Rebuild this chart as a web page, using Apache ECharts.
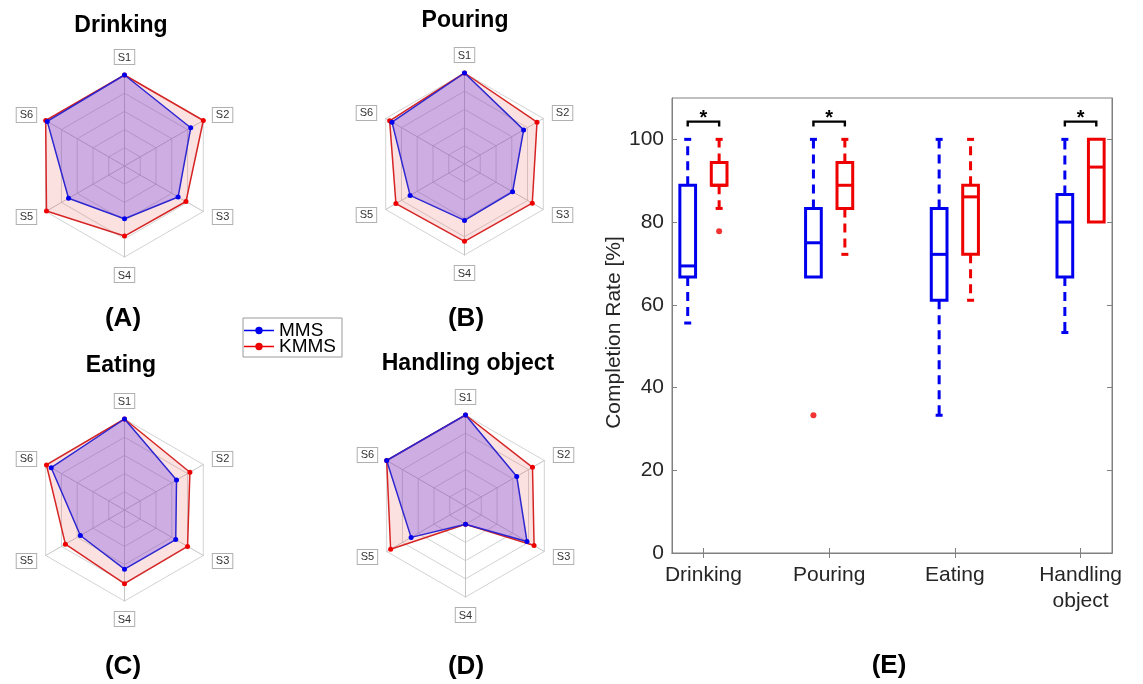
<!DOCTYPE html>
<html>
<head>
<meta charset="utf-8">
<title>MMS vs KMMS completion</title>
<script src="https://cdn.jsdelivr.net/npm/echarts@6/dist/echarts.min.js"></script>
<style>
  html, body { margin: 0; padding: 0; background: #fff; }
  #main { width: 1143px; height: 684px; }
</style>
</head>
<body>
<div id="main"></div>
<script>
// spokes of every radar, clockwise from the top
const spokes = ['S1', 'S2', 'S3', 'S4', 'S5', 'S6'];
const taskNames = ['Drinking', 'Pouring', 'Eating', 'Handling object'];
const panelTags = ['(A)', '(B)', '(C)', '(D)'];

// radar values in % of full scale, order S1..S6
const mmsRadar = [
  [100, 84, 68, 58, 71, 98],
  [100, 75, 61, 62, 69, 92],
  [100, 66, 65, 65, 56, 93],
  [100, 65, 78, 20, 69, 100]
];
const kmmsRadar = [
  [100, 100, 78, 77, 99, 100],
  [100, 92, 86, 85, 87, 95],
  [100, 83, 80, 81, 75, 99],
  [100, 85, 87, 20, 95, 100]
];

// box plot (E): [lower whisker, q1, median, q3, upper whisker]
const boxCategories = ['Drinking', 'Pouring', 'Eating', 'Handling\nobject'];
const mmsBox = [
  [55.6, 66.7, 69.4, 88.9, 100],
  [66.7, 66.7, 75.0, 83.3, 100],
  [33.3, 61.1, 72.2, 83.3, 100],
  [53.3, 66.7, 80.0, 86.7, 100]
];
const kmmsBox = [
  [83.3, 88.9, 88.9, 94.4, 100],
  [72.2, 83.3, 88.9, 94.4, 100],
  [61.1, 72.2, 86.1, 88.9, 100],
  [80.0, 80.0, 93.3, 100, 100]
];
const mmsOutliers = [[], [33.3], [], []];
const kmmsOutliers = [[77.8], [], [], []];
const significantTasks = [0, 1, 3];
const sigLevel = 104.3;
const yTicks = [0, 20, 40, 60, 80, 100];
const xTicks = [1, 2, 3, 4];

const FONT = '"Liberation Sans", Arial, Helvetica, sans-serif';
const BLUE = '#0000ee';
const RED = '#ee0000';
const groupShift = 0.125; // MMS left of the tick, KMMS right
const boxWidth = 0.125;

const chart = echarts.init(document.getElementById('main'));

// ---- radars (A)-(D) ----
const radarCenters = [[124.5, 166], [464.5, 164], [124.5, 510], [465.5, 506]];
// echarts lays indicators out counter-clockwise, so feed S1 then S6..S2
const ccw = [0, 5, 4, 3, 2, 1];
const radars = radarCenters.map(c => ({
  center: c,
  radius: 91,
  startAngle: 90,
  splitNumber: 5,
  shape: 'polygon',
  nameGap: 11,
  indicator: ccw.map(i => ({ name: spokes[i], min: 0, max: 100 })),
  axisName: {
    color: '#333', fontSize: 11, fontFamily: FONT,
    backgroundColor: '#fff', borderColor: '#b0b0b0', borderWidth: 1,
    padding: [2, 3, 1, 3]
  },
  splitLine: { lineStyle: { color: '#d3d3d3', width: 1 } },
  splitArea: { show: false },
  axisLine: { lineStyle: { color: '#c4c4c4', width: 1 } }
}));

const radarSeries = [];
taskNames.forEach((t, k) => {
  radarSeries.push({
    type: 'radar', name: 'KMMS', radarIndex: k,
    symbol: 'circle', symbolSize: 5,
    itemStyle: { color: RED },
    lineStyle: { color: '#d42222', width: 1.5 },
    areaStyle: { color: 'rgba(240,80,80,0.17)', opacity: 1 },
    data: [{ name: 'KMMS', value: ccw.map(i => kmmsRadar[k][i]) }]
  });
  radarSeries.push({
    type: 'radar', name: 'MMS', radarIndex: k,
    symbol: 'circle', symbolSize: 5,
    itemStyle: { color: BLUE },
    lineStyle: { color: '#2222cc', width: 1.5 },
    areaStyle: { color: 'rgba(105,65,230,0.32)', opacity: 1 },
    data: [{ name: 'MMS', value: ccw.map(i => mmsRadar[k][i]) }]
  });
});

// ---- box plot (E) ----
function boxRenderer (color) {
  return function (params, api) {
    const x = api.value(0);
    const lo = api.coord([x, api.value(1)]);
    const q1 = api.coord([x, api.value(2)]);
    const md = api.coord([x, api.value(3)]);
    const q3 = api.coord([x, api.value(4)]);
    const hi = api.coord([x, api.value(5)]);
    const hw = api.size([boxWidth, 0])[0] / 2;
    const cx = q1[0];
    const cap = 3.5;
    const solid = { stroke: color, lineWidth: 3, fill: 'none' };
    const dashed = { stroke: color, lineWidth: 3, lineDash: [9, 6], fill: 'none' };
    const kids = [
      { type: 'rect', shape: { x: cx - hw, y: q3[1], width: hw * 2, height: q1[1] - q3[1] }, style: solid },
      { type: 'line', shape: { x1: cx - hw, y1: md[1], x2: cx + hw, y2: md[1] }, style: solid }
    ];
    if (q3[1] - hi[1] > 0.5) {
      kids.push({ type: 'line', shape: { x1: cx, y1: q3[1], x2: cx, y2: hi[1] }, style: dashed });
      kids.push({ type: 'line', shape: { x1: cx - cap, y1: hi[1], x2: cx + cap, y2: hi[1] }, style: solid });
    }
    if (lo[1] - q1[1] > 0.5) {
      kids.push({ type: 'line', shape: { x1: cx, y1: q1[1], x2: cx, y2: lo[1] }, style: dashed });
      kids.push({ type: 'line', shape: { x1: cx - cap, y1: lo[1], x2: cx + cap, y2: lo[1] }, style: solid });
    }
    return { type: 'group', children: kids };
  };
}

const mmsBoxData = mmsBox.map((b, i) => [i + 1 - groupShift].concat(b));
const kmmsBoxData = kmmsBox.map((b, i) => [i + 1 + groupShift].concat(b));
const outlierData = [];
mmsOutliers.forEach((arr, i) => arr.forEach(v => outlierData.push([i + 1 - groupShift, v])));
kmmsOutliers.forEach((arr, i) => arr.forEach(v => outlierData.push([i + 1 + groupShift, v])));

const xBase = {
  type: 'value', min: 0.75, max: 4.25,
  axisLine: { show: true, lineStyle: { color: '#808080', width: 1 } },
  axisTick: { show: true, inside: true, length: 5, customValues: xTicks, lineStyle: { color: '#808080' } },
  splitLine: { show: false }
};
const yBase = {
  type: 'value', min: 0, max: 110,
  axisLine: { show: true, lineStyle: { color: '#808080', width: 1 } },
  axisTick: { show: true, inside: true, length: 5, customValues: yTicks, lineStyle: { color: '#808080' } },
  splitLine: { show: false }
};

// titles and panel tags
const graphics = [];
const titlePos = [[121, 26], [465, 21], [121, 366], [468, 364]];
taskNames.forEach((t, k) => {
  graphics.push({
    type: 'text', x: titlePos[k][0], y: titlePos[k][1],
    style: { text: t, font: 'bold 23px ' + FONT, fill: '#000', align: 'center', verticalAlign: 'middle' }
  });
});
const tagPos = [[123, 319], [466, 319], [123, 667], [466, 667], [889, 666]];
panelTags.concat(['(E)']).forEach((t, k) => {
  graphics.push({
    type: 'text', x: tagPos[k][0], y: tagPos[k][1],
    style: { text: t, font: 'bold 26px ' + FONT, fill: '#000', align: 'center', verticalAlign: 'middle' }
  });
});

const option = {
  animation: false,
  backgroundColor: '#fff',
  textStyle: { fontFamily: FONT },
  graphic: graphics,
  legend: {
    left: 243, top: 318, orient: 'vertical',
    data: ['MMS', 'KMMS'],
    itemWidth: 30, itemHeight: 7.4, itemGap: -3,
    padding: [3, 6, 1, 1],
    borderColor: '#9a9a9a', borderWidth: 1, backgroundColor: '#fff',
    icon: 'path://M0,2.9 H30 V4.5 H0 Z M11.3,3.7 A3.7,3.7 0 1,1 18.7,3.7 A3.7,3.7 0 1,1 11.3,3.7 Z',
    textStyle: { fontSize: 19, color: '#000', fontFamily: FONT }
  },
  radar: radars,
  grid: {
    left: 672, right: 31, top: 98, bottom: 131,
    show: true, borderColor: '#808080', borderWidth: 1
  },
  xAxis: [
    Object.assign({}, xBase, {
      position: 'bottom',
      axisLabel: {
        customValues: xTicks, fontSize: 21, color: '#262626', margin: 9, lineHeight: 26,
        formatter: v => boxCategories[Math.round(v) - 1]
      }
    }),
    Object.assign({}, xBase, { position: 'top', axisLabel: { show: false } })
  ],
  yAxis: [
    Object.assign({}, yBase, {
      position: 'left',
      name: 'Completion Rate [%]', nameLocation: 'middle', nameGap: 44,
      nameTextStyle: { fontSize: 21, color: '#262626', padding: [0, 14, 0, 0] },
      axisLabel: { customValues: yTicks, fontSize: 21, color: '#262626', margin: 8 }
    }),
    Object.assign({}, yBase, { position: 'right', axisLabel: { show: false } })
  ],
  series: radarSeries.concat([
    {
      type: 'custom', name: 'MMS box', xAxisIndex: 0, yAxisIndex: 0,
      encode: { x: 0, y: [1, 2, 3, 4, 5] },
      renderItem: boxRenderer(BLUE), data: mmsBoxData, z: 3
    },
    {
      type: 'custom', name: 'KMMS box', xAxisIndex: 0, yAxisIndex: 0,
      encode: { x: 0, y: [1, 2, 3, 4, 5] },
      renderItem: boxRenderer(RED), data: kmmsBoxData, z: 3
    },
    {
      type: 'scatter', name: 'outliers', xAxisIndex: 0, yAxisIndex: 0,
      symbol: 'circle', symbolSize: 6, itemStyle: { color: RED },
      data: outlierData, z: 4
    },
    {
      type: 'custom', name: 'significance', xAxisIndex: 0, yAxisIndex: 0,
      encode: { x: 0, y: 1 },
      data: significantTasks.map(i => [i + 1, sigLevel]),
      renderItem: function (params, api) {
        const x = api.value(0);
        const l = api.coord([x - groupShift, api.value(1)]);
        const r = api.coord([x + groupShift, api.value(1)]);
        return {
          type: 'group',
          children: [
            {
              type: 'polyline',
              shape: { points: [[l[0], l[1] + 5], [l[0], l[1]], [r[0], r[1]], [r[0], r[1] + 5]] },
              style: { stroke: '#000', lineWidth: 2.4, fill: 'none' }
            },
            {
              type: 'text', x: (l[0] + r[0]) / 2, y: l[1] - 3,
              style: { text: '*', font: 'bold 20px ' + FONT, fill: '#000', align: 'center', verticalAlign: 'middle' }
            }
          ]
        };
      },
      z: 3
    }
  ])
};

chart.setOption(option);
</script>
</body>
</html>
